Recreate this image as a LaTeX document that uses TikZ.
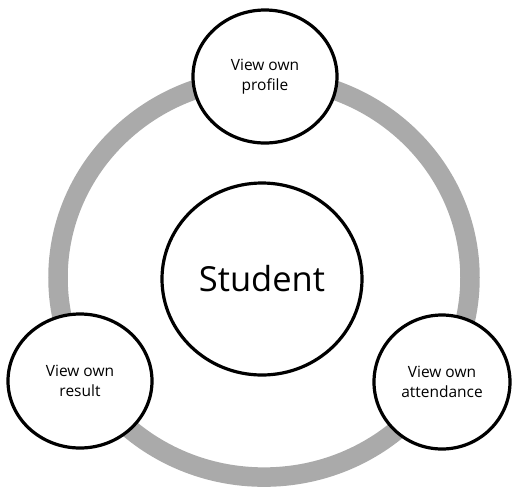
\documentclass[tikz,border=0pt]{standalone}
\usepackage{fontspec}
\setmainfont{Open Sans}
\usetikzlibrary{shapes.geometric}
\definecolor{ringgray}{RGB}{170,170,170}
\begin{document}
\begin{tikzpicture}[x=1pt,y=-1pt,
  bubble/.style={ellipse, draw=black, line width=3.2pt, fill=white, inner sep=0pt, align=center,
    font=\fontsize{15.5}{19.5}\selectfont},
  ring/.style={draw=ringgray, line width=19.5pt}
]
\useasboundingbox (0,0) rectangle (512,491);
\coordinate (c) at (264,277.6);
\draw[ring] (c) ellipse [x radius=206, y radius=199.5];
\node[bubble, minimum width=200pt, minimum height=192pt, font=\fontsize{34.5}{40}\selectfont] (student) at (262,279) {Student};
\node[bubble, minimum width=144pt, minimum height=133pt] (profile) at (265,76.5) {View own\\profile};
\node[bubble, minimum width=144pt, minimum height=134pt] (result) at (80,381) {View own\\result};
\node[bubble, minimum width=136pt, minimum height=134pt] (attendance) at (442,382) {View own\\attendance};
\end{tikzpicture}
\end{document}
